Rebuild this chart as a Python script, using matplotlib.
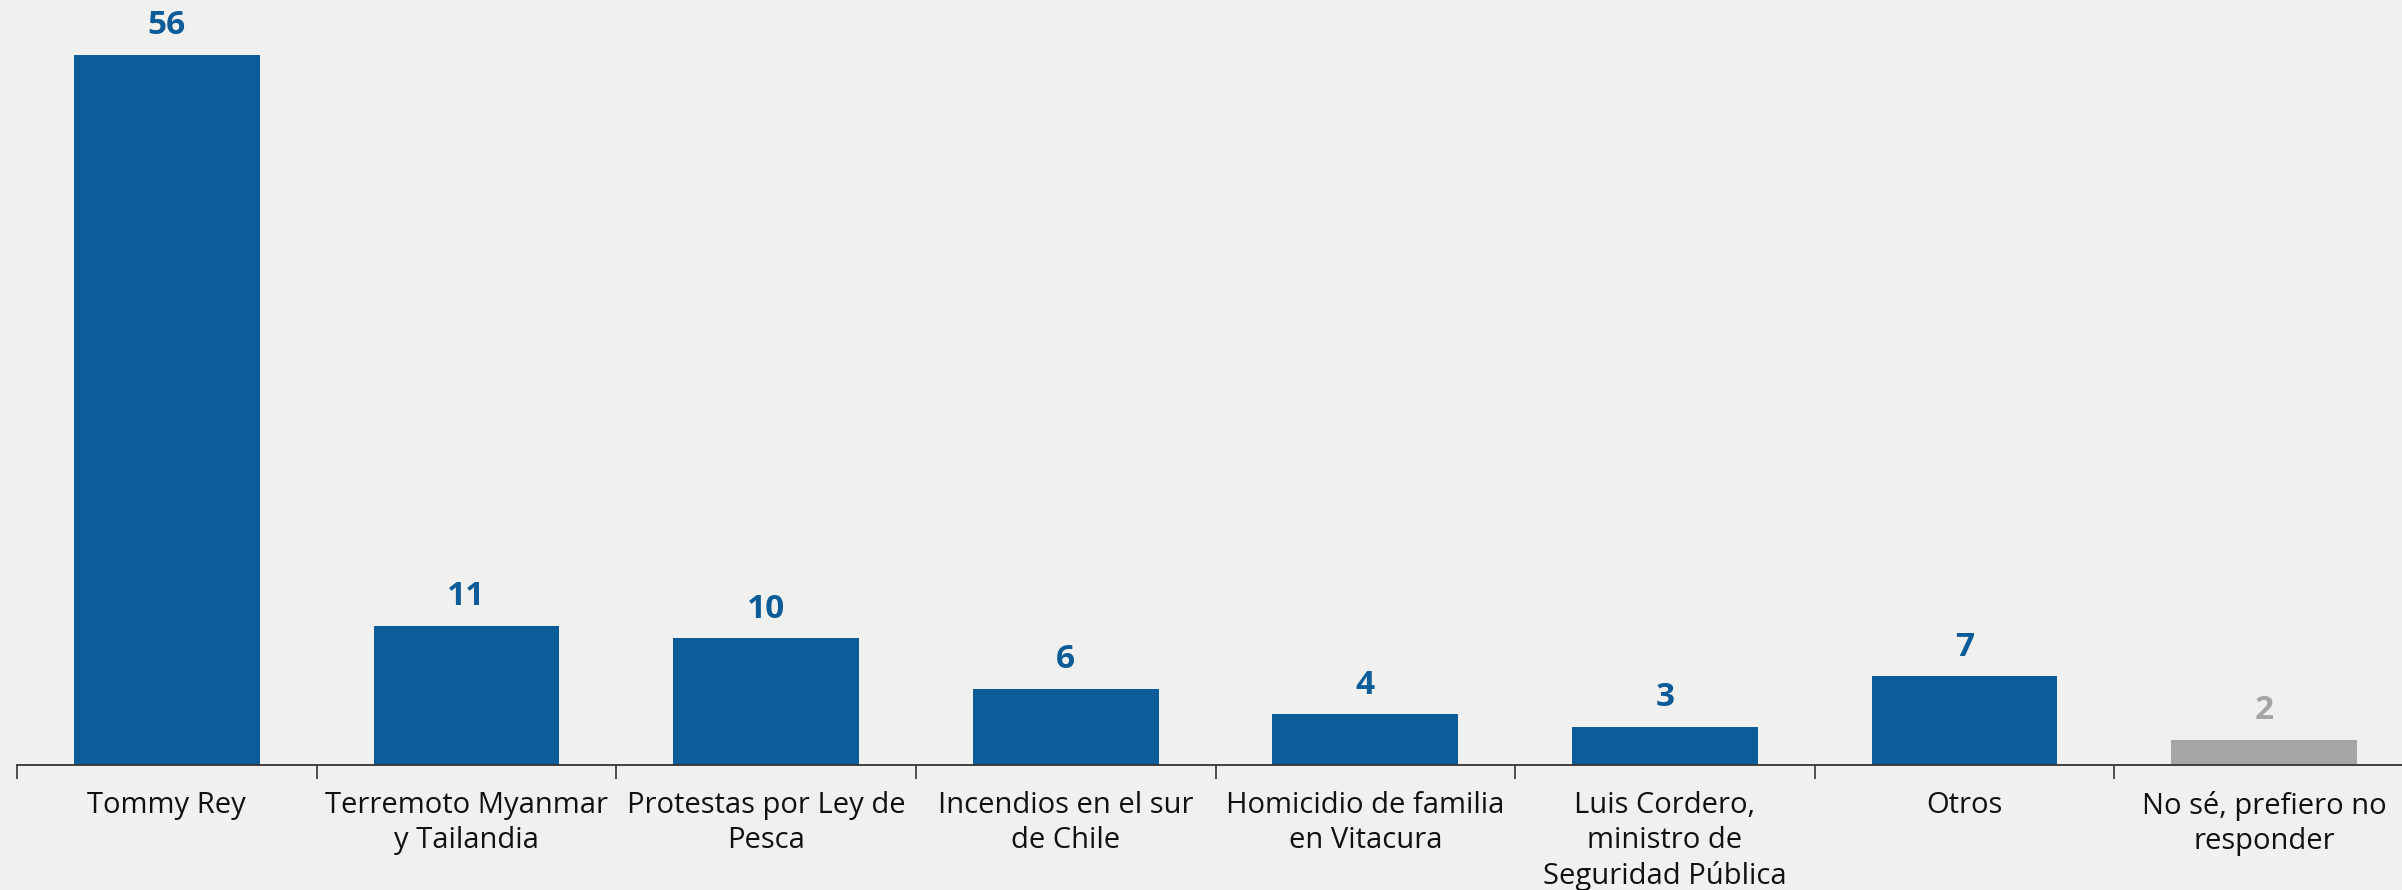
import matplotlib
matplotlib.use('Agg')
from matplotlib import pyplot as plt
import numpy as np

plt.rcParams['font.family'] = ['Open Sans', 'DejaVu Sans']

# datos
categorias = ['Tommy Rey', 'Terremoto Myanmar\ny Tailandia', 'Protestas por Ley de\nPesca',
              'Incendios en el sur\nde Chile', 'Homicidio de familia\nen Vitacura',
              'Luis Cordero,\nministro de\nSeguridad Pública', 'Otros',
              'No sé, prefiero no\nresponder']
valores = [56, 11, 10, 6, 4, 3, 7, 2]
colores = ['#0b5c98'] * 7 + ['#a5a5a5']
color_texto = ['#0b5c98'] * 7 + ['#a5a5a5']

fondo = '#f0f0ee'
fig = plt.figure(figsize=(24.02, 8.90), dpi=100, facecolor=fondo)
ax = fig.add_axes([17 / 2402, 125 / 890, 2397 / 2402, 765 / 890])
ax.set_facecolor(fondo)

x = np.arange(len(valores))
ax.bar(x, valores, width=0.62, color=colores, zorder=2)
for xi, v, c in zip(x, valores, color_texto):
    ax.annotate(str(v), (xi, v), xytext=(0, 9), textcoords='offset points',
                ha='center', va='bottom', fontsize=24, fontweight='bold', color=c)

ax.set_xlim(-0.5, len(valores) - 0.5)
ax.set_ylim(0, max(valores) * 765 / 710)

for s in ['top', 'right', 'left']:
    ax.spines[s].set_visible(False)
ax.spines['bottom'].set_color('#333333')
ax.spines['bottom'].set_linewidth(1.3)
ax.set_yticks([])

ax.set_xticks(x)
ax.set_xticklabels(categorias, fontsize=21, color='#111111', linespacing=1.26)
ax.tick_params(axis='x', which='major', length=0, pad=19)
ax.set_xticks(np.arange(-0.5, len(valores)), minor=True)
ax.tick_params(axis='x', which='minor', length=10, width=1.2, color='#333333')

fig.savefig('out.png', dpi=100, facecolor=fondo)
